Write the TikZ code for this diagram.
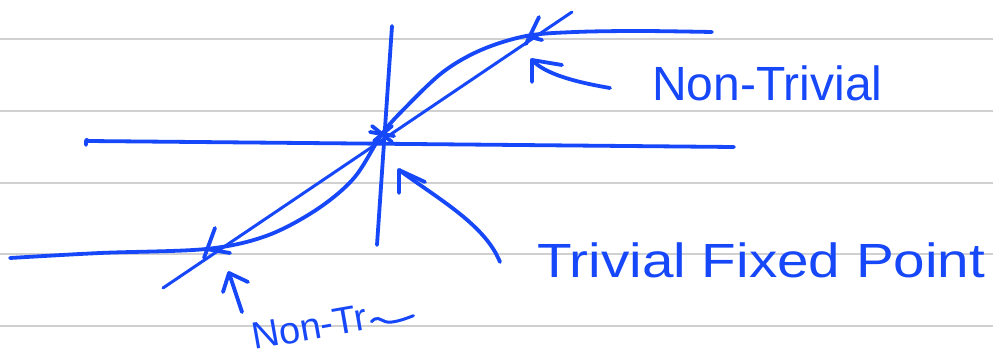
\documentclass[tikz,border=0pt]{standalone}
\usepackage{fontspec}
\setmainfont{Liberation Sans}
\definecolor{ink}{RGB}{22,72,250}
\definecolor{rule}{RGB}{208,208,208}
\begin{document}
\begin{tikzpicture}[x=1pt,y=-1pt,
  pen/.style={draw=ink,line width=3.8pt,line cap=round,line join=round},
  thinpen/.style={draw=ink,line width=3pt,line cap=round,line join=round},
  ruling/.style={draw=rule,line width=2.4pt},
  label/.style={text=ink,inner sep=0pt,font=\fontsize{48}{48}\selectfont}]
\fill[white] (0,0) rectangle (993,361);
\useasboundingbox (0,0) rectangle (993,361);
% ruled paper
\foreach \yy in {39,111,183,254,326} \draw[ruling] (0,\yy) -- (993,\yy);
% fixed points
\coordinate (fpL) at (206,249);
\coordinate (fpC) at (382,134);
\coordinate (fpU) at (526,36);
% axes
\coordinate (hL) at (88,141);
\coordinate (hR) at (734,147);
\coordinate (vT) at (392,26);
\coordinate (vB) at (377,245);
\draw[pen] (hL) ++(-2,4) .. controls (86,139) .. (hL) -- (hR);
\draw[pen] (vT) -- (vB);
% diagonal y = x
\coordinate (dL) at (163,288);
\coordinate (dU) at (572,12);
\draw[thinpen] (dL) -- (dU);
% S-shaped curve
\draw[pen] plot[smooth,tension=0.55] coordinates {(10,258) (100,253) (206,249) (266,236) (316,210) (354,178) (382,134) (405,108) (443,72) (481,50) (526,36) (575,32) (640,31) (712,32)};
% marks at fixed points
\draw[pen] (215,228) -- (204,258);
\draw[pen] (fpL) -- (230,253);
\draw[pen] (539,17) -- (526,44);
\draw[pen] (fpU) -- (542,40);
\draw[pen] (372,126) -- (392,142);
\draw[pen] (374,141) -- (392,126);
\draw[pen] (370,132) -- (394,136);
% labels
\node[label,anchor=base west] (ntU) at (652,100) {Non-Trivial};
\node[label,anchor=base west,xscale=1.18] (tfp) at (537,277) {Trivial Fixed Point};
\node[label,anchor=base west,rotate=10,font=\fontsize{38}{38}\selectfont] (ntL) at (254,350) {Non-Tr};
\draw[thinpen] (ntL.base east) ++(2,-8) .. controls +(6,-6) and +(-6,-2) .. ++(14,0) .. controls +(6,2) and +(-10,4) .. ++(28,-6);
% arrows
\coordinate (aU) at (532,60);
\coordinate (aUt) at (610,88);
\draw[pen] (aUt) .. controls (575,82) and (545,74) .. (aU);
\draw[pen] (532,82) -- (aU) -- (562,65);
\coordinate (aC) at (399,170);
\coordinate (aCt) at (500,262);
\draw[pen] (aCt) .. controls (485,225) and (440,200) .. (aC);
\draw[pen] (399,193) -- (aC) -- (425,182);
\coordinate (aL) at (229,273);
\coordinate (aLt) at (242,312);
\draw[pen] (aLt) .. controls (238,300) and (233,285) .. (aL);
\draw[pen] (223,292) -- (aL) -- (248,282);
\end{tikzpicture}
\end{document}
